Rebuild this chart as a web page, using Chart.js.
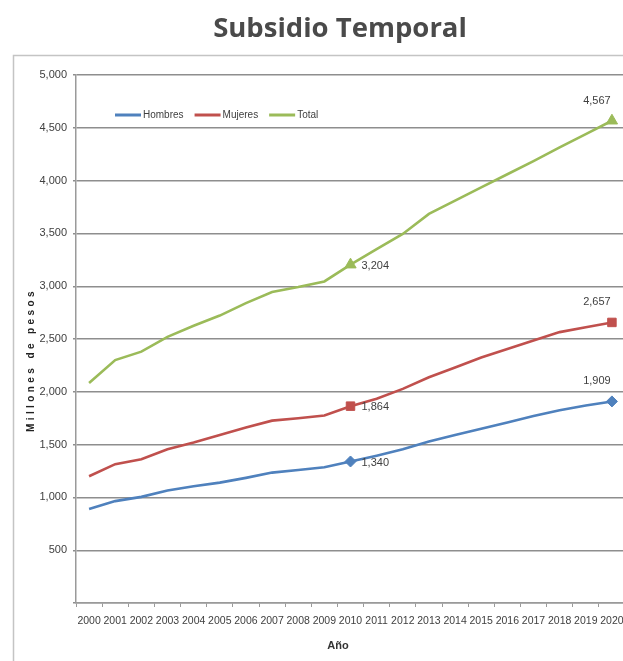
<!DOCTYPE html>
<html>
<head>
<meta charset="utf-8">
<script src="https://cdn.jsdelivr.net/npm/chart.js@4"></script>
<style>
  html, body { margin: 0; padding: 0; background: #fff; overflow: hidden; }
  #wrap { width: 623px; height: 661px; overflow: hidden; position: relative; }
  canvas { position: absolute; left: 0; top: 0; }
</style>
</head>
<body>
<div id="wrap"><canvas id="c" width="640" height="661"></canvas></div>
<script>
// Subsidio temporal, millones de pesos por año
const years = ['2000','2001','2002','2003','2004','2005','2006','2007','2008','2009','2010',
               '2011','2012','2013','2014','2015','2016','2017','2018','2019','2020'];
const hombres = [890, 965, 1005, 1065, 1105, 1140, 1185, 1235, 1260, 1285, 1340,
                 1395, 1455, 1530, 1590, 1650, 1710, 1770, 1825, 1870, 1909];
const mujeres = [1200, 1315, 1362, 1455, 1520, 1592, 1663, 1727, 1750, 1775, 1864,
                 1935, 2028, 2138, 2230, 2325, 2405, 2485, 2565, 2612, 2657];
const total   = [2083, 2300, 2380, 2520, 2625, 2722, 2840, 2945, 2992, 3045, 3204,
                 3350, 3495, 3685, 3810, 3935, 4060, 4185, 4315, 4440, 4567];
const seriesNames = ['Hombres', 'Mujeres', 'Total'];
const yTicks = [0, 500, 1000, 1500, 2000, 2500, 3000, 3500, 4000, 4500, 5000];
const labelledYears = ['2010', '2020'];

const SANS = "'Liberation Sans', Arial, sans-serif";
const fmt = v => Number(v).toLocaleString('en-US');
const markerAt = r => ctx => labelledYears.includes(years[ctx.dataIndex]) ? r : 0;

// frame, titles, legend and value labels
const decorations = {
  id: 'decorations',
  beforeDraw(chart) {
    const ctx = chart.ctx;
    ctx.save();
    ctx.fillStyle = '#fff';
    ctx.fillRect(0, 0, chart.width, chart.height);
    ctx.strokeStyle = '#c4c4c4';
    ctx.lineWidth = 1.5;
    ctx.strokeRect(13.5, 55.5, 700, 700);
    ctx.restore();
  },
  afterDraw(chart) {
    const ctx = chart.ctx;
    ctx.save();

    // chart title
    ctx.fillStyle = '#4a4a4a';
    ctx.font = "bold 27.5px 'Open Sans', sans-serif";
    ctx.textAlign = 'center';
    ctx.textBaseline = 'middle';
    ctx.fillText('Subsidio Temporal', 340, 29);

    // y axis title
    ctx.save();
    ctx.translate(31, 360);
    ctx.rotate(-Math.PI / 2);
    ctx.font = "bold 10px " + SANS;
    if ('letterSpacing' in ctx) ctx.letterSpacing = '3.4px';
    ctx.fillStyle = '#222';
    ctx.fillText('Millones de pesos', 0, 0);
    ctx.restore();

    // x axis title
    ctx.font = "bold 11px " + SANS;
    ctx.fillStyle = '#333';
    ctx.fillText('Año', 338, 646);

    // legend
    let x = 115;
    const ly = 115;
    ctx.font = "10px " + SANS;
    ctx.textAlign = 'left';
    chart.data.datasets.forEach(ds => {
      ctx.strokeStyle = ds.borderColor;
      ctx.lineWidth = 3;
      ctx.beginPath();
      ctx.moveTo(x, ly);
      ctx.lineTo(x + 26, ly);
      ctx.stroke();
      ctx.fillStyle = '#404040';
      ctx.fillText(ds.label, x + 28, ly);
      x += 28 + ctx.measureText(ds.label).width + 11;
    });

    // value labels at the marked years
    ctx.font = "11px " + SANS;
    ctx.fillStyle = '#404040';
    chart.data.datasets.forEach((ds, di) => {
      const meta = chart.getDatasetMeta(di);
      labelledYears.forEach((yr, k) => {
        const i = years.indexOf(yr);
        const p = meta.data[i];
        const txt = fmt(ds.data[i]);
        if (k === 0) {
          ctx.textAlign = 'left';
          ctx.fillText(txt, p.x + 11, p.y + 1);
        } else {
          ctx.textAlign = 'center';
          ctx.fillText(txt, p.x - 15, p.y - 20);
        }
      });
    });
    ctx.restore();
  }
};

new Chart(document.getElementById('c'), {
  type: 'line',
  data: {
    labels: years,
    datasets: [
      { label: seriesNames[0], data: hombres, borderColor: '#4F81BD', backgroundColor: '#4F81BD',
        pointStyle: 'rectRot', pointRadius: markerAt(5.5) },
      { label: seriesNames[1], data: mujeres, borderColor: '#C0504D', backgroundColor: '#C0504D',
        pointStyle: 'rect', pointRadius: markerAt(6) },
      { label: seriesNames[2], data: total, borderColor: '#9BBB59', backgroundColor: '#9BBB59',
        pointStyle: 'triangle', pointRadius: markerAt(6.5) }
    ]
  },
  options: {
    responsive: false,
    animation: false,
    devicePixelRatio: 1,
    layout: { padding: { left: 14, right: 15, top: 75, bottom: 0 } },
    elements: {
      line: { borderWidth: 2.6, tension: 0, fill: false },
      point: { borderWidth: 1, hoverRadius: 0 }
    },
    plugins: {
      legend: { display: false },
      title: { display: false },
      tooltip: { enabled: false }
    },
    scales: {
      x: {
        offset: true,
        afterFit: s => { s.height = 58; },
        grid: { display: true, offset: true, drawOnChartArea: false, drawTicks: true,
                tickLength: 4, color: '#9a9a9a' },
        border: { display: true, color: '#9a9a9a', width: 1.5 },
        ticks: { autoSkip: false, maxRotation: 0, minRotation: 0, padding: 8,
                 color: '#404040', font: { size: 10.5, family: SANS } }
      },
      y: {
        min: 0,
        max: 5000,
        afterFit: s => { s.width = 62; },
        afterBuildTicks: s => { s.ticks = yTicks.map(v => ({ value: v })); },
        grid: { color: '#8e8e8e', lineWidth: 1.4, drawTicks: true, tickLength: 3 },
        border: { display: true, color: '#9a9a9a', width: 1.5 },
        ticks: { padding: 6, color: '#404040', font: { size: 11, family: SANS },
                 callback: v => v === 0 ? '' : fmt(v) }
      }
    }
  },
  plugins: [decorations]
});
</script>
</body>
</html>
